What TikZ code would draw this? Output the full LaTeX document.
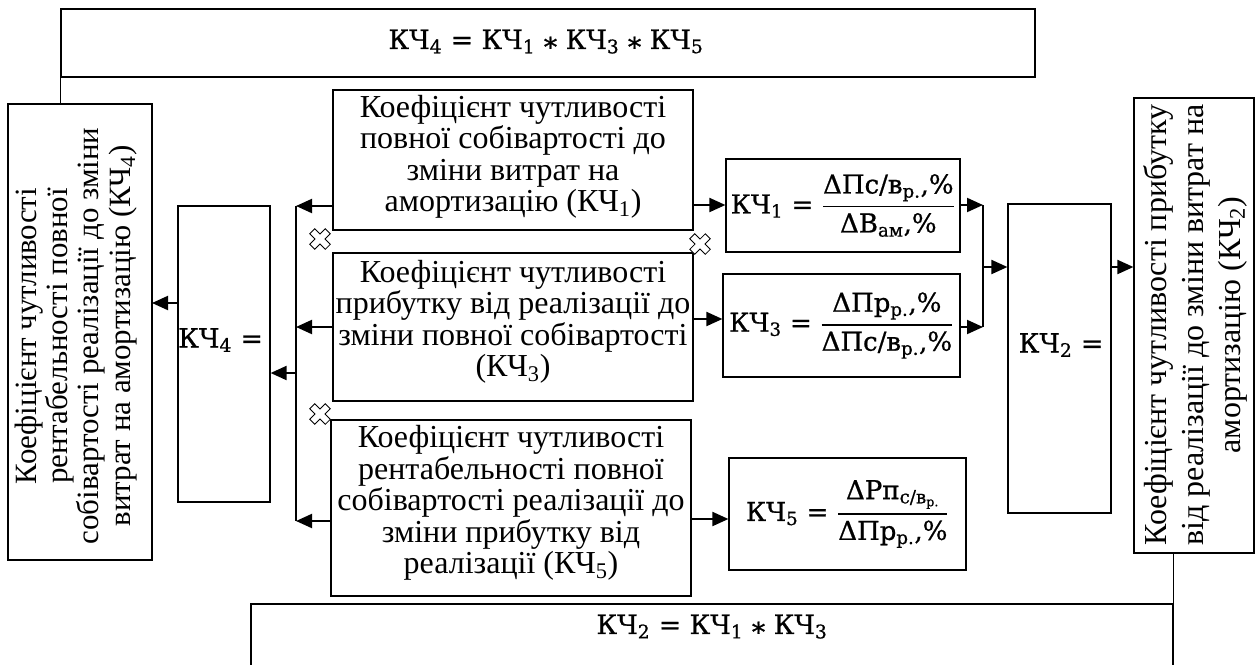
\documentclass[tikz,border=0pt]{standalone}
\usepackage{amsmath}
\usepackage{fontspec}
\setmainfont{Liberation Serif}
\newfontfamily\ff[FakeBold=0.8]{DejaVu Serif}
\usetikzlibrary{arrows.meta,fit}
\newcommand\mulop{\raisebox{-0.28em}{*}}
\newcommand\fr[2]{$\genfrac{}{}{1.1pt}{0}{\hbox{#1}}{\hbox{#2}}$}
\tikzset{
  box/.style={draw, line width=0.9pt, inner sep=0pt},
  txt/.style={font={\fontsize{24}{23.6}\selectfont}, align=center, inner sep=0pt},
  txtL/.style={font={\fontsize{23.2}{23.3}\selectfont}, align=center, inner sep=0pt},
  txtR/.style={font={\fontsize{24}{27.7}\selectfont}, align=center, inner sep=0pt},
  fml/.style={font={\ff\fontsize{20}{22}\selectfont}, inner sep=0pt},
  fmlF/.style={font={\ff\fontsize{19.5}{22}\selectfont}, inner sep=0pt},
  arr/.style={line width=1.5pt, -{Triangle[length=12pt,width=10.5pt]}},
  ln/.style={line width=0.9pt},
  xm/.pic={\draw[line width=0.6pt, fill=white, rotate=45]
     (-3.5,-11)--(3.5,-11)--(3.5,-3.5)--(11,-3.5)--(11,3.5)--(3.5,3.5)--(3.5,11)
     --(-3.5,11)--(-3.5,3.5)--(-11,3.5)--(-11,-3.5)--(-3.5,-3.5)--cycle;}
}
\begin{document}
\begin{tikzpicture}[x=0.75pt,y=-0.75pt]
\useasboundingbox (0,0) rectangle (1255,664);
\clip (0,0) rectangle (1255,664);

% boxes
\node[box, fit={(61,9) (1035,77)}] (top) {};
\node[box, fit={(8,104) (152,560)}] (L) {};
\node[box, fit={(178,206) (270,502)}] (K4) {};
\node[box, fit={(333,90) (693,230)}] (B1) {};
\node[box, fit={(333,253) (693,401)}] (B3) {};
\node[box, fit={(331,420) (691,596)}] (B5) {};
\node[box, fit={(726,159) (960,252)}] (F1) {};
\node[box, fit={(723,274) (960,377)}] (F3) {};
\node[box, fit={(729,458) (966,570)}] (F5) {};
\node[box, fit={(1008,204) (1111,513)}] (K2) {};
\node[box, fit={(1134,98) (1254,553)}] (R) {};
\node[box, fit={(251,604) (1173,720)}] (bot) {};

% texts
\node[fml] (topt) at (546,43) {КЧ\textsubscript{4} = КЧ\textsubscript{1} \mulop{} КЧ\textsubscript{3} \mulop{} КЧ\textsubscript{5}};
\node[fml] (bott) at (712,628) {КЧ\textsubscript{2} = КЧ\textsubscript{1} \mulop{} КЧ\textsubscript{3}};
\node[txtL, rotate=90] (Lt) at (76,336) {Коефіцієнт чутливості\\ рентабельності повної\\ собівартості реалізації до зміни\\ витрат на амортизацію (КЧ\textsubscript{4})};
\node[txtR, rotate=90] (Rt) at (1195,325) {Коефіцієнт чутливості прибутку\\ від реалізації до зміни витрат на\\ амортизацію (КЧ\textsubscript{2})};
\node[fml, anchor=west] (K4t) at (178,340) {КЧ\textsubscript{4} =};
\node[fml] (K2t) at (1061,345) {КЧ\textsubscript{2} =};
\node[txt] (B1t) at (513,157) {Коефіцієнт чутливості\\ повної собівартості до\\ зміни витрат на\\ амортизацію (КЧ\textsubscript{1})};
\node[txt] (B3t) at (513,322) {Коефіцієнт чутливості\\ прибутку від реалізації до\\ зміни повної собівартості\\ (КЧ\textsubscript{3})};
\node[txt] (B5t) at (511,503) {Коефіцієнт чутливості\\ рентабельності повної\\ собівартості реалізації до\\ зміни прибутку від\\ реалізації (КЧ\textsubscript{5})};
\node[fmlF] (F1t) at (F1.center) {КЧ\textsubscript{1} = \fr{ΔПс/в\textsubscript{р.},\%}{ΔВ\textsubscript{ам},\%}};
\node[fmlF] (F3t) at (F3.center) {КЧ\textsubscript{3} = \fr{ΔПр\textsubscript{р.},\%}{ΔПс/в\textsubscript{р.},\%}};
\node[fmlF] (F5t) at (F5.center) {КЧ\textsubscript{5} = \fr{ΔРп\textsubscript{с/в\textsubscript{р.}}}{ΔПр\textsubscript{р.},\%}};

% junction coordinates
\coordinate (bt) at (296,206);
\coordinate (b3j) at (296,327);
\coordinate (b4j) at (296,373);
\coordinate (bb) at (296,521);
\coordinate (lk) at (152,303);
\coordinate (rt) at (983,205);
\coordinate (rb) at (983,327);
\coordinate (rm) at (983,267);
\coordinate (y3) at (0,319);
\coordinate (y5) at (0,519);

% connectors
\draw[ln] (top.south west) -- (top.south west |- L.north);
\draw[ln] (R.south -| bot.north east) -- (bot.north east);
\draw[ln] (bt) -- (bb);
\draw[arr] (B1.west |- bt) -- (bt);
\draw[arr] (B3.west |- b3j) -- (b3j);
\draw[arr] (B5.west |- bb) -- (bb);
\draw[arr] (b4j) -- (K4.east |- b4j);
\draw[arr] (K4.west |- lk) -- (lk);
\draw[arr] (B1.east |- rt) -- (F1.west |- rt);
\draw[arr] (B3.east |- y3) -- (F3.west |- y3);
\draw[arr] (B5.east |- y5) -- (F5.west |- y5);
\draw[arr] (F1.east |- rt) -- (rt);
\draw[arr] (F3.east |- rb) -- (rb);
\draw[ln] (rt) -- (rb);
\draw[arr] (rm) -- (K2.west |- rm);
\draw[arr] (K2.east |- rm) -- (R.west |- rm);

% cross markers
\pic at (320,239) {xm};
\pic at (700,244) {xm};
\pic at (320,414) {xm};
\end{tikzpicture}
\end{document}
